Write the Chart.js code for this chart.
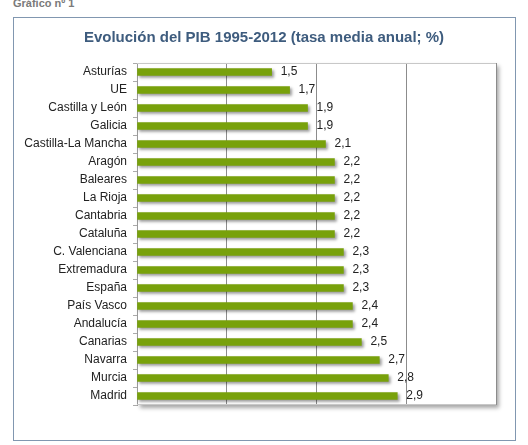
<!DOCTYPE html>
<html>
<head>
<meta charset="utf-8">
<script src="https://cdn.jsdelivr.net/npm/chart.js@4/dist/chart.umd.min.js"></script>
<style>
  body { margin: 0; background: #fff; font-family: "Liberation Sans", Arial, sans-serif; }
  #wrap { position: relative; width: 528px; height: 445px; overflow: hidden; }
  #caption { position: absolute; left: 13px; top: -3px; font-size: 11px; font-weight: bold; color: #7a7a7a; }
  #box { position: absolute; left: 13px; top: 17px; width: 501px; height: 422px; border: 1px solid #8197b0; }
  #chart { position: absolute; left: 0; top: 0; }
</style>
</head>
<body>
<div id="wrap">
  <div id="caption">Gráfico nº 1</div>
  <div id="box"></div>
  <canvas id="chart" width="528" height="445"></canvas>
</div>
<script>
const regiones = ['Asturías', 'UE', 'Castilla y León', 'Galicia', 'Castilla-La Mancha', 'Aragón',
  'Baleares', 'La Rioja', 'Cantabria', 'Cataluña', 'C. Valenciana', 'Extremadura', 'España',
  'País Vasco', 'Andalucía', 'Canarias', 'Navarra', 'Murcia', 'Madrid'];
const tasas = [1.5, 1.7, 1.9, 1.9, 2.1, 2.2, 2.2, 2.2, 2.2, 2.2, 2.3, 2.3, 2.3, 2.4, 2.4, 2.5, 2.7, 2.8, 2.9];
const titulo = 'Evolución del PIB 1995-2012 (tasa media anual; %)';

const fmt = (v) => v.toFixed(1).replace('.', ',');

// titulo centrado en el recuadro
const titlePlugin = {
  id: 'titlePlugin',
  afterDraw(chart) {
    const ctx = chart.ctx;
    ctx.save();
    ctx.font = 'bold 15px "Liberation Sans", Arial, sans-serif';
    ctx.fillStyle = '#3e5c7e';
    ctx.textAlign = 'center';
    ctx.textBaseline = 'middle';
    ctx.fillText(titulo, 264, 38);
    ctx.restore();
  }
};

// fondo blanco del area con sombra
const plotShadow = {
  id: 'plotShadow',
  beforeDraw(chart) {
    const { ctx, chartArea: a } = chart;
    ctx.save();
    ctx.shadowColor = 'rgba(0,0,0,0.35)';
    ctx.shadowBlur = 4;
    ctx.shadowOffsetX = 3;
    ctx.shadowOffsetY = 3;
    ctx.fillStyle = '#fff';
    ctx.fillRect(a.left, a.top, a.right - a.left, a.bottom - a.top);
    ctx.restore();
  },
  afterDraw(chart) {
    const { ctx, chartArea: a } = chart;
    ctx.save();
    ctx.strokeStyle = '#c8c8c8';
    ctx.lineWidth = 1;
    ctx.beginPath();
    ctx.moveTo(a.left, a.top + 0.5);
    ctx.lineTo(a.right, a.top + 0.5);
    ctx.moveTo(a.left, a.bottom - 0.5);
    ctx.lineTo(a.right, a.bottom - 0.5);
    ctx.stroke();
    ctx.restore();
  }
};

// sombra de las barras
const barShadow = {
  id: 'barShadow',
  beforeDatasetsDraw(chart) {
    const ctx = chart.ctx;
    ctx.save();
    ctx.shadowColor = 'rgba(0,0,0,0.4)';
    ctx.shadowBlur = 3;
    ctx.shadowOffsetX = 2;
    ctx.shadowOffsetY = 2;
  },
  afterDatasetsDraw(chart) {
    chart.ctx.restore();
  }
};

// etiquetas de valor
const valueLabels = {
  id: 'valueLabels',
  afterDatasetsDraw(chart) {
    const ctx = chart.ctx;
    const meta = chart.getDatasetMeta(0);
    ctx.save();
    ctx.font = '12px "Liberation Sans", Arial, sans-serif';
    ctx.fillStyle = '#222';
    ctx.textAlign = 'left';
    ctx.textBaseline = 'middle';
    meta.data.forEach((bar, i) => {
      ctx.fillText(fmt(tasas[i]), bar.x + 9, bar.y);
    });
    ctx.restore();
  }
};

new Chart(document.getElementById('chart'), {
  type: 'bar',
  data: {
    labels: regiones,
    datasets: [{
      data: tasas,
      backgroundColor: '#78a10b',
      barThickness: 7
    }]
  },
  options: {
    indexAxis: 'y',
    responsive: false,
    animation: false,
    layout: { padding: { left: 0, right: 32, top: 63, bottom: 40 } },
    plugins: {
      legend: { display: false },
      tooltip: { enabled: false },
      title: { display: false }
    },
    scales: {
      x: {
        min: 0,
        max: 4,
        ticks: { stepSize: 1, display: false },
        grid: { color: '#8c8c8c', drawTicks: false },
        border: { display: false }
      },
      y: {
        afterFit(scale) { scale.width = 137; },
        ticks: {
          color: '#222',
          padding: 6,
          font: { family: '"Liberation Sans", Arial, sans-serif', size: 12 }
        },
        grid: { offset: true, drawOnChartArea: false, tickLength: 4, color: '#aaa' },
        border: { color: '#9a9a9a' }
      }
    }
  },
  plugins: [plotShadow, barShadow, valueLabels, titlePlugin]
});
</script>
</body>
</html>
